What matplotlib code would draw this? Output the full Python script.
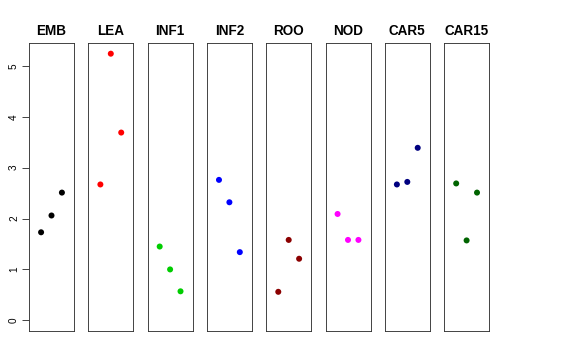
import numpy as np
import matplotlib.pyplot as plt

plt.rcParams['font.family'] = ['Liberation Sans', 'DejaVu Sans']

tissues = ["EMB", "LEA", "INF1", "INF2", "ROO", "NOD", "CAR5", "CAR15"]
colors = ["black", "red", "#00CD00", "blue", "#8B0000", "magenta", "#000080", "#006400"]

EMB = [1.73, 2.06, 2.51]
LEA = [2.67, 5.24, 3.69]
INF1 = [1.45, 1.00, 0.57]
INF2 = [2.76, 2.32, 1.34]
ROO = [0.56, 1.58, 1.21]
NOD = [2.09, 1.58, 1.58]
CAR5 = [2.67, 2.72, 3.39]
CAR15 = [2.69, 1.57, 2.51]
values = [EMB, LEA, INF1, INF2, ROO, NOD, CAR5, CAR15]

W, H = 576, 360
fig = plt.figure(figsize=(W / 72, H / 72), dpi=72)

left0 = 29
width = 45
step = 59.3
bottom = 29
height = 288

for i, (name, col, vals) in enumerate(zip(tissues, colors, values)):
    ax = fig.add_axes([(left0 + i * step) / W, bottom / H, width / W, height / H])
    x = np.arange(1, len(vals) + 1)
    ax.scatter(x, vals, s=36, color=col, edgecolors="none", zorder=3)
    ax.set_xlim(-0.16, 4.16)
    ax.set_ylim(-0.21, 5.45)
    ax.set_xticks([])
    ax.set_title(name, fontsize=13.5, fontweight="bold", pad=8)
    for sp in ax.spines.values():
        sp.set_linewidth(0.9)
        sp.set_color("#333333")
    if i == 0:
        ax.set_yticks(range(6))
        ax.tick_params(axis="y", length=7, width=0.9, labelsize=10, pad=3, color="#333333")
        for lab in ax.get_yticklabels():
            lab.set_rotation(90)
            lab.set_va("center")
    else:
        ax.set_yticks([])

fig.savefig("out.png", dpi=72)
